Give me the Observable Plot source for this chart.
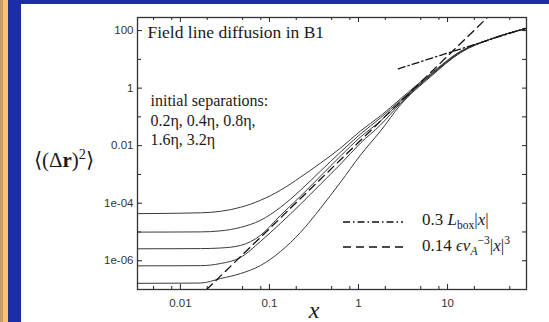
<!DOCTYPE html>
<html><head><meta charset="utf-8">
<script src="https://cdn.jsdelivr.net/npm/d3@7"></script>
<script src="https://cdn.jsdelivr.net/npm/@observablehq/plot@0.6"></script>
<style>
html,body{margin:0;padding:0;background:#fff;}
#wrap{position:relative;width:549px;height:322px;overflow:hidden;background:#fff;}
.band{position:absolute;}
#chart{position:absolute;left:21px;top:4px;}
.lbl{position:absolute;font-family:"Liberation Serif","Times New Roman",serif;color:#1a1a1a;white-space:nowrap;line-height:1;}
.lbl i{font-style:italic;}
.lbl sub,.lbl sup{font-size:0.68em;line-height:0;}
.samp{position:absolute;}
</style></head><body>
<div id="wrap">
  <div class="band" style="left:0;top:0;width:549px;height:4px;background:#1b2ea6"></div>
  <div class="band" style="left:0;top:0;width:3px;height:322px;background:#c59c6e"></div>
  <div class="band" style="left:3px;top:0;width:5px;height:322px;background:#f7c46a"></div>
  <div class="band" style="left:8px;top:0;width:13px;height:322px;background:#1b2ea6"></div>
  <div id="chart"></div>
  <div class="lbl" id="ylab" style="left:34px;top:150px;font-size:21px;">⟨(Δ<b>r</b>)<sup>2</sup>⟩</div>
  <svg class="samp" style="left:343px;top:220px" width="60" height="4"><line x1="0" y1="2" x2="60" y2="2" stroke="#111" stroke-width="1.3" stroke-dasharray="7,3,1.5,3"/></svg>
  <svg class="samp" style="left:343px;top:245px" width="60" height="4"><line x1="0" y1="2" x2="60" y2="2" stroke="#111" stroke-width="1.3" stroke-dasharray="8,5"/></svg>
  <div class="lbl" id="leg1" style="left:422px;top:211px;font-size:17px;">0.3 <i>L</i><sub>box</sub>|<i>x</i>|</div>
  <div class="lbl" id="leg2" style="left:422px;top:237px;font-size:17px;">0.14 <i>ϵv</i><sub><i>A</i></sub><sup>−3</sup>|<i>x</i>|<sup>3</sup></div>
</div>
<script>
// x positions (field-line coordinate)
const xs = [0.0033, 0.0168, 0.0281, 0.0472, 0.0792, 0.133, 0.223, 0.374, 0.628, 1.053, 1.767, 2.96, 6.44, 14.0, 30.4, 75.2];
// <(Δr)^2> for initial separations
const seriesNames = ["3.2η", "1.6η", "0.8η", "0.4η", "0.2η"];
const sep32 = [4.34e-5, 4.62e-5, 5.21e-5, 7.19e-5, 1.26e-4, 2.82e-4, 8.02e-4, 2.47e-3, 8.24e-3, 0.0324, 0.108, 0.423, 3.16, 19.2, 50.5, 117];
const sep16 = [9.89e-6, 1.005e-5, 1.09e-5, 1.44e-5, 2.53e-5, 7.19e-5, 2.82e-4, 1.30e-3, 5.98e-3, 0.0254, 0.0919, 0.375, 2.91, 18.5, 50.5, 117];
const sep08 = [2.60e-6, 2.64e-6, 2.77e-6, 3.39e-6, 7.58e-6, 3.78e-5, 1.74e-4, 8.69e-4, 4.34e-3, 0.0200, 0.0722, 0.333, 2.80, 18.2, 50.5, 117];
const sep04 = [6.64e-7, 6.75e-7, 7.98e-7, 1.29e-6, 4.68e-6, 1.99e-5, 9.16e-5, 4.57e-4, 2.28e-3, 0.0123, 0.0524, 0.294, 2.69, 17.6, 50.5, 117];
const sep02 = [1.64e-7, 1.68e-7, 2.39e-7, 3.57e-7, 6.79e-7, 2.09e-6, 9.64e-6, 6.64e-5, 5.36e-4, 4.70e-3, 0.0324, 0.261, 2.48, 17.1, 50.5, 117];

// fit lines (end points)
const cubicX = [0.0197, 28];
const cubicY = [1e-7, 285];
const linearX = [2.8, 75];
const linearY = [4.7, 120];

// ticks
const xMajor = [0.01, 0.1, 1, 10];
const xMajorLabels = ["0.01", "0.1", "1", "10"];
const xMinor = [0.005, 0.008, 0.02, 0.05, 0.08, 0.2, 0.5, 0.8, 2, 5, 8, 20, 50];
const yMajor = [1e-6, 1e-4, 0.01, 1, 100];
const yMajorLabels = ["1e-06", "1e-04", "0.01", "1", "100"];
const yMinor = [1e-5, 1e-3, 0.1, 10];

const titleText = "Field line diffusion in B1";
const noteText = "initial separations:\n0.2η, 0.4η, 0.8η,\n1.6η, 3.2η";
const xLabel = "x";

const allSeries = [sep32, sep16, sep08, sep04, sep02];
const rows = [];
allSeries.forEach((arr, k) => arr.forEach((v, i) => rows.push({x: xs[i], y: v, s: seriesNames[k]})));
const cubic = cubicX.map((x, i) => ({x, y: cubicY[i]}));
const linear = linearX.map((x, i) => ({x, y: linearY[i]}));

const W = 528, H = 318, mL = 116, mR = 23, mT = 13, mB = 33;
const fw = W - mL - mR, fh = H - mT - mB;
const xLab = new Map(xMajor.map((d, i) => [d, xMajorLabels[i]]));
const yLab = new Map(yMajor.map((d, i) => [d, yMajorLabels[i]]));
const ink = "#222";
const serif = "Liberation Serif";

const chart = Plot.plot({
  width: W, height: H,
  marginLeft: mL, marginRight: mR, marginTop: mT, marginBottom: mB,
  x: {type: "log", domain: [0.0033, 77]},
  y: {type: "log", domain: [1e-7, 285]},
  style: {background: "white", fontFamily: "Liberation Sans", fontSize: "11.5px", color: "#333"},
  marks: [
    Plot.axisX(xMajor, {tickSize: 0, tickPadding: 9, tickFormat: d => xLab.get(d), label: null}),
    Plot.axisY(yMajor, {tickSize: 0, tickPadding: 4, tickFormat: d => yLab.get(d), label: null}),
    // bottom & top ticks (inward)
    Plot.ruleX(xMajor, {insetTop: fh - 5, stroke: ink, strokeWidth: 1}),
    Plot.ruleX(xMinor, {insetTop: fh - 3, stroke: ink, strokeWidth: 1}),
    Plot.ruleX(xMajor, {insetBottom: fh - 5, stroke: ink, strokeWidth: 1}),
    Plot.ruleX(xMinor, {insetBottom: fh - 3, stroke: ink, strokeWidth: 1}),
    // left & right ticks
    Plot.ruleY(yMajor, {insetRight: fw - 5, stroke: ink, strokeWidth: 1}),
    Plot.ruleY(yMinor, {insetRight: fw - 4, stroke: ink, strokeWidth: 1}),
    Plot.ruleY(yMajor.concat(yMinor), {insetLeft: fw - 4, stroke: ink, strokeWidth: 1}),
    Plot.line(rows, {x: "x", y: "y", z: "s", stroke: "#3a3a3a", strokeWidth: 1, curve: "monotone-x", clip: true}),
    Plot.line(linear, {x: "x", y: "y", stroke: "#111", strokeWidth: 1.3, strokeDasharray: "7,3,1.5,3", clip: true}),
    Plot.line(cubic, {x: "x", y: "y", stroke: "#111", strokeWidth: 1.3, strokeDasharray: "8,5", clip: true}),
    Plot.frame({stroke: "#333", strokeWidth: 1.3}),
    Plot.text([titleText], {frameAnchor: "top-left", dx: 10, dy: 15, textAnchor: "start", lineAnchor: "middle", fontFamily: serif, fontSize: 17.5, fill: "#1a1a1a"}),
    Plot.text([noteText], {frameAnchor: "top-left", dx: 13, dy: 102, textAnchor: "start", lineAnchor: "middle", lineHeight: 1.22, fontFamily: serif, fontSize: 16, fill: "#1a1a1a"}),
    Plot.text([xLabel], {frameAnchor: "bottom", dx: -18, dy: 21, lineAnchor: "middle", fontFamily: serif, fontStyle: "italic", fontSize: 24, fill: "#1a1a1a"})
  ]
});
document.getElementById("chart").appendChild(chart);
</script>
</body></html>
